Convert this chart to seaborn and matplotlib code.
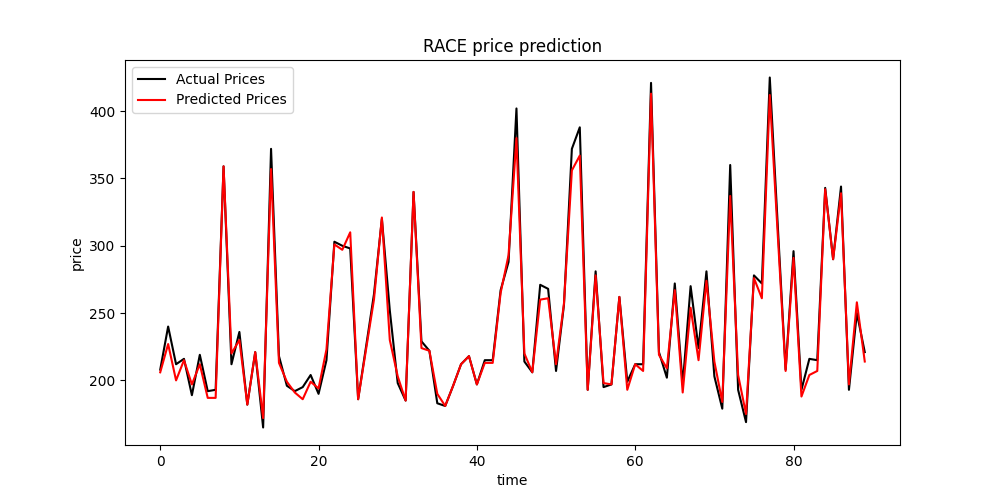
import numpy as np
import pandas as pd
import matplotlib
matplotlib.use('Agg')
import matplotlib.pyplot as plt
import seaborn as sns

# Values
actual_prices = [208, 240, 212, 216, 189, 219, 192, 193, 359, 212,
                 236, 182, 221, 165, 372, 218, 196, 192, 195, 204,
                 190, 215, 303, 300, 298, 186, 225, 264, 320, 252,
                 198, 185, 340, 229, 222, 183, 181, 196, 212, 218,
                 197, 215, 215, 267, 288, 402, 214, 206, 271, 268,
                 207, 256, 372, 388, 193, 281, 195, 197, 262, 199,
                 212, 212, 421, 221, 202, 272, 197, 270, 224, 281,
                 203, 179, 360, 193, 169, 278, 272, 425, 316, 208,
                 296, 193, 216, 215, 343, 290, 344, 193, 250, 221]
predicted_prices = [206, 227, 200, 215, 197, 212, 187, 187, 359, 220,
                    230, 182, 221, 172, 357, 213, 199, 191, 186, 199,
                    194, 223, 301, 297, 310, 186, 223, 260, 321, 230,
                    203, 185, 340, 224, 222, 190, 181, 196, 212, 218,
                    197, 213, 213, 265, 293, 380, 220, 206, 260, 261,
                    212, 257, 356, 367, 193, 278, 198, 197, 262, 193,
                    212, 207, 413, 219, 209, 267, 191, 254, 215, 274,
                    214, 184, 337, 204, 175, 276, 261, 412, 309, 207,
                    291, 188, 204, 207, 342, 290, 339, 197, 258, 214]

time = np.arange(len(actual_prices))
df = pd.DataFrame({'time': time, 'actual': actual_prices, 'predicted': predicted_prices})

fig, ax = plt.subplots(figsize=(10, 5), dpi=100)
sns.lineplot(data=df, x='time', y='actual', color='black', label='Actual Prices', ax=ax)
sns.lineplot(data=df, x='time', y='predicted', color='red', label='Predicted Prices', ax=ax)

ax.set_title('RACE price prediction')
ax.set_xlabel('time')
ax.set_ylabel('price')
ax.legend(loc='upper left')

plt.savefig('out.png', dpi=100)
